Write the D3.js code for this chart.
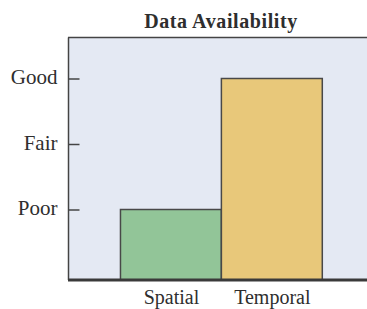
<!DOCTYPE html>
<html>
<head>
<meta charset="utf-8">
<script src="https://cdn.jsdelivr.net/npm/d3@7"></script>
<style>
  body { margin: 0; background: #fff; }
  svg text { font-family: "Liberation Serif", "Times New Roman", serif; fill: #2e2e2e; }
</style>
</head>
<body>
<svg id="chart" width="367" height="309"></svg>
<script>
var categories = ["Spatial", "Temporal"];
var levels = ["Poor", "Fair", "Good"];
var ratings = ["Poor", "Good"];
var barColors = ["#92c598", "#e8c87a"];
var title = "Data Availability";

var plot = { left: 68, top: 37.5, right: 367, bottom: 280 };

var svg = d3.select("#chart");

// category index 1..n on a linear axis, bars are one unit wide
var x = d3.scaleLinear().domain([-0.02, 2.943]).range([plot.left, plot.right]);
var y = d3.scaleLinear().domain([1, 3]).range([209.5, 78.5]);

svg.append("rect")
  .attr("x", plot.left)
  .attr("y", plot.top)
  .attr("width", plot.right - plot.left + 5)
  .attr("height", plot.bottom - plot.top)
  .attr("fill", "#e4e9f3");

svg.append("text")
  .attr("x", 221)
  .attr("y", 28.3)
  .attr("text-anchor", "middle")
  .style("font-size", "20px")
  .style("font-weight", "bold")
  .style("letter-spacing", "0.6px")
  .text(title);

var bars = categories.map(function (c, i) {
  return { name: c, idx: i + 1, level: levels.indexOf(ratings[i]) + 1, color: barColors[i] };
});

svg.append("g").selectAll("rect")
  .data(bars)
  .enter()
  .append("rect")
  .attr("x", function (d) { return x(d.idx - 0.5); })
  .attr("y", function (d) { return y(d.level); })
  .attr("width", function (d) { return x(d.idx + 0.5) - x(d.idx - 0.5); })
  .attr("height", function (d) { return plot.bottom - y(d.level); })
  .attr("fill", function (d) { return d.color; })
  .attr("stroke", "#484848")
  .attr("stroke-width", 1.5);

// frame: top and left thin, bottom heavy
svg.append("line")
  .attr("x1", plot.left).attr("x2", plot.right)
  .attr("y1", plot.top).attr("y2", plot.top)
  .attr("stroke", "#444").attr("stroke-width", 1.5);
svg.append("line")
  .attr("x1", plot.left + 0.5).attr("x2", plot.left + 0.5)
  .attr("y1", plot.top).attr("y2", plot.bottom)
  .attr("stroke", "#444").attr("stroke-width", 1.5);

var yAxis = svg.append("g")
  .attr("transform", "translate(" + (plot.left + 0.5) + ",0)")
  .call(d3.axisLeft(y)
    .tickValues([1, 2, 3])
    .tickFormat(function (d) { return levels[d - 1]; })
    .tickSizeInner(-11)
    .tickSizeOuter(0)
    .tickPadding(11));
yAxis.select(".domain").remove();
yAxis.selectAll("line").attr("stroke", "#444").attr("stroke-width", 1.5);
yAxis.selectAll("text")
  .attr("dy", "0.24em")
  .style("font-size", "21px")
  .style("font-family", "Liberation Serif, serif")
  .attr("fill", "#2e2e2e");

var xAxis = svg.append("g")
  .attr("transform", "translate(0," + plot.bottom + ")")
  .call(d3.axisBottom(x)
    .tickValues([1, 2])
    .tickFormat(function (d) { return categories[d - 1]; })
    .tickSize(0)
    .tickPadding(9.5));
xAxis.select(".domain").remove();
xAxis.selectAll("text")
  .style("font-size", "20px")
  .style("font-family", "Liberation Serif, serif")
  .attr("fill", "#2e2e2e");

svg.append("line")
  .attr("x1", plot.left).attr("x2", plot.right)
  .attr("y1", plot.bottom).attr("y2", plot.bottom)
  .attr("stroke", "#3a3a3a").attr("stroke-width", 3);
</script>
</body>
</html>
